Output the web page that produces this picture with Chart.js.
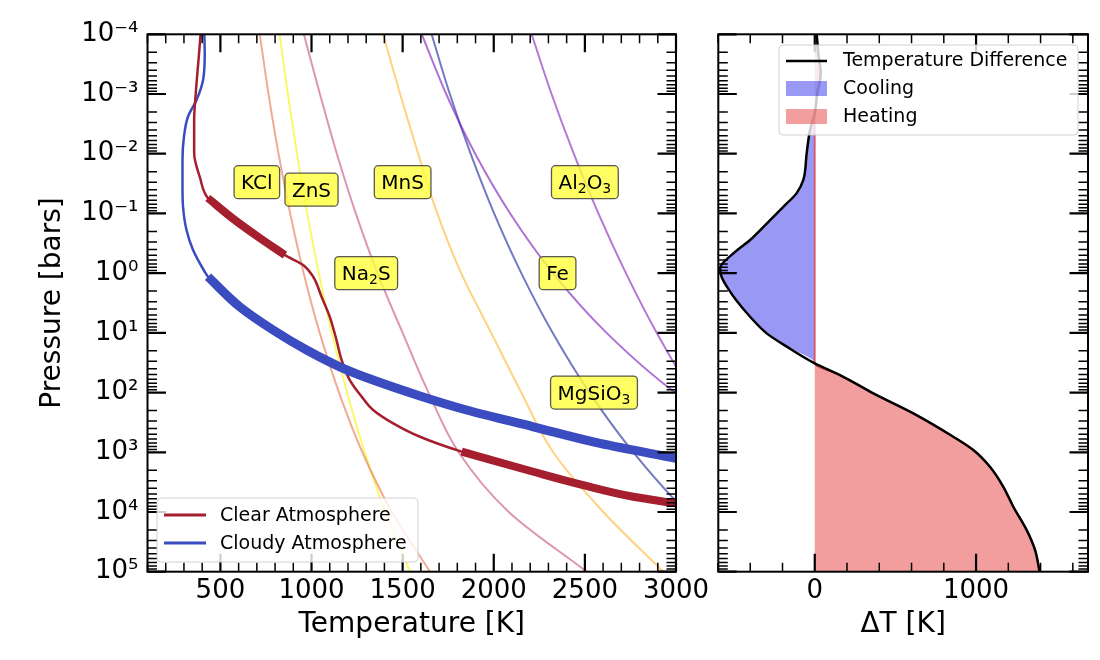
<!DOCTYPE html>
<html>
<head>
<meta charset="utf-8">
<script src="https://cdn.jsdelivr.net/npm/chart.js@4.4.1/dist/chart.umd.min.js"></script>
<style>
  body { margin: 0; background: #fff; }
  #wrap { position: relative; width: 1100px; height: 660px; }
  #leftChart { position: absolute; left: 0; top: 0; }
  #rightChart { position: absolute; left: 700px; top: 0; }
</style>
</head>
<body>
<div id="wrap">
  <canvas id="leftChart" width="720" height="660"></canvas>
  <canvas id="rightChart" width="400" height="660"></canvas>
</div>
<script>
// ---- data -------------------------------------------------------------
// condensation curves, temperature [K] at each pressure level [bar]
const condPressure = [1e-4, 1e-3, 1e-2, 1e-1, 1, 10, 100, 1e3, 1e4, 1e5];
const kclT    = [716, 764, 819, 883, 957, 1045, 1151, 1279, 1441, 1650];
const znsT    = [825, 870, 920, 976, 1040, 1112, 1195, 1292, 1405, 1541];
const na2sT   = [958, 1046, 1139, 1243, 1362, 1500, 1642, 1807, 2082, 2510];
const mnsT    = [1393, 1486, 1585, 1690, 1821, 1986, 2151, 2326, 2601, 2930];
const feT     = [1605, 1739, 1898, 2090, 2325, 2619, 2996, 3502, 4215, 5290];
const mgsio3T = [1659, 1759, 1873, 2002, 2151, 2323, 2525, 2766, 3058, 3419];
const al2o3T  = [2208, 2317, 2439, 2574, 2725, 2894, 3086, 3306, 3559, 3854];

// species labels (name, temperature, pressure)
const speciesNames = ['KCl', 'ZnS', 'MnS', 'Al_2O_3', 'Na_2S', 'Fe', 'MgSiO_3'];
const labelT = [700, 1000, 1500, 2500, 1300, 2350, 2550];
const labelP = [0.03, 0.04, 0.03, 0.03, 1, 1, 100];

// P-T profiles
const clearT = [391, 383, 365, 356, 356, 387, 431, 579, 716, 854, 954, 1009, 1055, 1100, 1137, 1165, 1210, 1275, 1338, 1448, 1595, 1824, 2217, 2491, 2766, 3000];
const clearP = [1e-4, 2.06e-4, 9.6e-4, 2.72e-3, 9.7e-3, 0.0245, 0.0552, 0.129, 0.258, 0.498, 0.731, 1.15, 2.48, 5.37, 13.2, 28.5, 61.7, 117, 196, 328, 550, 977, 2120, 3550, 5560, 7180];
const cloudyT = [412, 414, 405, 369, 322, 300, 292, 292, 295, 314, 350, 414, 432, 606, 789, 973, 1155, 1338, 1595, 1851, 2217, 2583, 3000];
const cloudyP = [1e-4, 2.09e-4, 5.83e-4, 1.26e-3, 2.4e-3, 5.19e-3, 0.0128, 0.0357, 0.0773, 0.19, 0.41, 0.948, 1.15, 3.66, 8.97, 19.4, 37, 61.8, 114, 196, 374, 710, 1260];
// pressure ranges drawn thick
const clearThick = [[0.0552, 0.498], [977, 1e5]];
const cloudyThick = [[1.15, 1e5]];

// temperature difference panel
const dtP = [1e-4, 2.09e-4, 4.47e-4, 9.77e-4, 2.09e-3, 3.98e-3, 9.77e-3, 0.0275, 0.0457, 0.0776, 0.148, 0.279, 0.468, 0.832, 1.15, 1.91, 2.82, 5.37, 10.2, 17, 32.4, 50.9, 103, 223, 550, 918, 1750, 3780, 8180, 20100, 43400, 1e5];
const dtK = [12, 22, 37, 16, 0, -29, -50, -71, -112, -195, -298, -401, -505, -587, -578, -532, -488, -401, -298, -174, 0, 157, 363, 611, 859, 983, 1086, 1169, 1231, 1314, 1366, 1394];

// axis ticks
const pressureTicks = [1e-4, 1e-3, 1e-2, 1e-1, 1, 10, 100, 1e3, 1e4, 1e5];
const tempTicks = [500, 1000, 1500, 2000, 2500, 3000];
const dtTicks = [0, 1000];

// ---- helpers -----------------------------------------------------------
const FONT = '"DejaVu Sans", sans-serif';
Chart.defaults.font.family = FONT;
Chart.defaults.color = '#000';

const SUP = { '-': '⁻', '0': '⁰', '1': '¹', '2': '²', '3': '³', '4': '⁴', '5': '⁵', '6': '⁶', '7': '⁷', '8': '⁸', '9': '⁹' };
function decadeLabel(v) {
  const e = Math.round(Math.log10(v));
  return '10' + String(e).split('').map(c => SUP[c]).join('');
}

function pts(xs, ps) {
  return ps.map((p, i) => ({ x: xs[i], y: p }));
}

function inRanges(p, ranges) {
  return ranges.some(r => p >= r[0] - 1e-9 && p <= r[1] + 1e-9);
}

function lineSet(data, color, width, order) {
  return {
    data: data, borderColor: color, borderWidth: width, fill: false,
    pointRadius: 0, order: order, clip: 0
  };
}

// minor tick values
const pressureMinor = [];
pressureTicks.slice(0, -1).forEach(d => { for (let m = 2; m <= 9; m++) pressureMinor.push(m * d); });
const tempMinor = [];
for (let t = 100; t <= 3000; t += 100) if (!tempTicks.includes(t)) tempMinor.push(t);
const dtMinor = [];
for (let t = -600; t <= 1600; t += 200) if (!dtTicks.includes(t)) dtMinor.push(t);

// inward ticks on all four sides + frame
function frameTicks(xMajor, xMinor) {
  return {
    id: 'frameTicks',
    afterDraw(chart) {
      const { ctx, chartArea: a } = chart;
      const xs = chart.scales.x, ys = chart.scales.y;
      ctx.save();
      ctx.strokeStyle = '#000';
      const tx = (v, len, lw) => {
        const px = xs.getPixelForValue(v);
        if (px < a.left - 0.5 || px > a.right + 0.5) return;
        ctx.lineWidth = lw;
        ctx.beginPath();
        ctx.moveTo(px, a.bottom); ctx.lineTo(px, a.bottom - len);
        ctx.moveTo(px, a.top); ctx.lineTo(px, a.top + len);
        ctx.stroke();
      };
      const ty = (v, len, lw) => {
        const py = ys.getPixelForValue(v);
        ctx.lineWidth = lw;
        ctx.beginPath();
        ctx.moveTo(a.left, py); ctx.lineTo(a.left + len, py);
        ctx.moveTo(a.right, py); ctx.lineTo(a.right - len, py);
        ctx.stroke();
      };
      xMinor.forEach(v => tx(v, 9, 1.5));
      xMajor.forEach(v => tx(v, 18, 2.2));
      pressureMinor.forEach(v => ty(v, 9.5, 1.5));
      pressureTicks.forEach(v => ty(v, 18.5, 2.2));
      ctx.lineWidth = 2;
      ctx.strokeRect(a.left, a.top, a.right - a.left, a.bottom - a.top);
      ctx.restore();
    }
  };
}

// yellow boxed species labels with subscripts
const speciesLabels = {
  id: 'speciesLabels',
  afterDatasetsDraw(chart) {
    const ctx = chart.ctx;
    const xs = chart.scales.x, ys = chart.scales.y;
    ctx.save();
    speciesNames.forEach((name, i) => {
      const cx = xs.getPixelForValue(labelT[i]);
      const cy = ys.getPixelForValue(labelP[i]);
      const parts = name.split(/(_\d)/).filter(s => s).map(s => s[0] === '_' ? [s.slice(1), true] : [s, false]);
      const big = '20px ' + FONT, small = '14px ' + FONT;
      let w = 0;
      parts.forEach(([t, sub]) => { ctx.font = sub ? small : big; w += ctx.measureText(t).width; });
      const bw = w + 14, bh = 33;
      ctx.beginPath();
      ctx.roundRect(cx - bw / 2, cy - bh / 2, bw, bh, 4);
      ctx.fillStyle = 'rgba(255,255,60,0.8)';
      ctx.fill();
      ctx.lineWidth = 1.3;
      ctx.strokeStyle = 'rgba(60,60,60,0.85)';
      ctx.stroke();
      ctx.fillStyle = '#000';
      ctx.textAlign = 'left';
      ctx.textBaseline = 'alphabetic';
      let x = cx - w / 2;
      const base = cy + 7;
      parts.forEach(([t, sub]) => {
        ctx.font = sub ? small : big;
        ctx.fillText(t, x, sub ? base + 4 : base);
        x += ctx.measureText(t).width;
      });
    });
    ctx.restore();
  }
};

function legendBox(ctx, x, y, w, h) {
  ctx.beginPath();
  ctx.roundRect(x, y, w, h, 4);
  ctx.fillStyle = 'rgba(255,255,255,0.8)';
  ctx.fill();
  ctx.lineWidth = 1;
  ctx.strokeStyle = 'rgba(204,204,204,0.9)';
  ctx.stroke();
}

const leftLegend = {
  id: 'leftLegend',
  afterDraw(chart) {
    const ctx = chart.ctx;
    ctx.save();
    legendBox(ctx, 157, 498, 261, 64);
    const items = [['Clear Atmosphere', '#a51f2e', 515], ['Cloudy Atmosphere', '#3b4cc0', 543]];
    ctx.font = '19px ' + FONT;
    ctx.textBaseline = 'middle';
    items.forEach(([txt, col, y]) => {
      ctx.strokeStyle = col; ctx.lineWidth = 3;
      ctx.beginPath(); ctx.moveTo(164, y); ctx.lineTo(206, y); ctx.stroke();
      ctx.fillStyle = '#000';
      ctx.fillText(txt, 220, y + 1);
    });
    ctx.restore();
  }
};

const rightLegend = {
  id: 'rightLegend',
  afterDraw(chart) {
    const ctx = chart.ctx;
    ctx.save();
    legendBox(ctx, 79, 45, 299, 90);
    ctx.font = '19px ' + FONT;
    ctx.textBaseline = 'middle';
    ctx.strokeStyle = '#000'; ctx.lineWidth = 2.5;
    ctx.beginPath(); ctx.moveTo(86, 61); ctx.lineTo(127, 61); ctx.stroke();
    ctx.fillStyle = 'rgba(0,0,230,0.4)';
    ctx.fillRect(86, 81, 41, 15);
    ctx.fillStyle = 'rgba(226,40,40,0.45)';
    ctx.fillRect(86, 109, 41, 15);
    ctx.fillStyle = '#000';
    ctx.fillText('Temperature Difference', 143, 61);
    ctx.fillText('Cooling', 143, 89);
    ctx.fillText('Heating', 143, 117);
    ctx.restore();
  }
};

// ---- left panel ----------------------------------------------------------
const condCurves = [
  [kclT, 'rgba(230,115,80,0.6)'],
  [znsT, 'rgba(245,245,0,0.6)'],
  [na2sT, 'rgba(197,80,130,0.6)'],
  [mnsT, 'rgba(255,165,0,0.5)'],
  [feT, 'rgba(120,20,185,0.6)'],
  [mgsio3T, 'rgba(40,50,160,0.65)'],
  [al2o3T, 'rgba(130,30,185,0.6)']
];

const leftDatasets = condCurves.map(([T, col]) => lineSet(pts(T, condPressure), col, 2, 5));

const clearPts = pts(clearT, clearP);
const cloudyPts = pts(cloudyT, cloudyP);
leftDatasets.push(lineSet(clearPts, '#a51f2e', 2.5, 2));
leftDatasets.push(lineSet(cloudyPts, '#3b4cc0', 2.5, 2));
clearThick.forEach(r => leftDatasets.push(lineSet(clearPts.filter(p => inRanges(p.y, [r])), '#a51f2e', 8, 1)));
cloudyThick.forEach(r => leftDatasets.push(lineSet(cloudyPts.filter(p => inRanges(p.y, [r])), '#3b4cc0', 9, 1)));

const commonElements = {
  point: { radius: 0 },
  line: { capBezierPoints: false, cubicInterpolationMode: 'monotone', borderCapStyle: 'butt', borderJoinStyle: 'round' }
};

new Chart(document.getElementById('leftChart'), {
  type: 'line',
  data: { datasets: leftDatasets },
  options: {
    responsive: false,
    animation: false,
    indexAxis: 'y',
    layout: { padding: { top: 34.3, right: 44, bottom: 0, left: 0 } },
    elements: commonElements,
    plugins: { legend: { display: false }, tooltip: { enabled: false } },
    scales: {
      x: {
        type: 'linear', position: 'bottom', min: 100, max: 3000,
        grid: { display: false, drawTicks: false }, border: { display: false },
        afterBuildTicks: s => { s.ticks = tempTicks.map(v => ({ value: v })); },
        afterFit: s => { s.height = 88.3; },
        ticks: { autoSkip: false, maxRotation: 0, padding: 4, font: { size: 26 }, callback: v => String(v) },
        title: { display: true, text: 'Temperature [K]', font: { size: 28 }, padding: { top: 0, bottom: 18 } }
      },
      y: {
        type: 'logarithmic', position: 'left', reverse: true, min: 1e-4, max: 1e5,
        grid: { display: false, drawTicks: false }, border: { display: false },
        afterBuildTicks: s => { s.ticks = pressureTicks.map(v => ({ value: v })); },
        afterFit: s => { s.width = 147.5; },
        ticks: { autoSkip: false, padding: 9, font: { size: 26 }, callback: v => decadeLabel(v) },
        title: { display: true, text: 'Pressure [bars]', font: { size: 28 }, padding: { top: 36, bottom: 0 } }
      }
    }
  },
  plugins: [speciesLabels, frameTicks(tempTicks, tempMinor), leftLegend]
});

// ---- right panel ---------------------------------------------------------
const rightDatasets = [
  {
    data: dtP.map((p, i) => ({ x: Math.min(dtK[i], 0), y: p })),
    borderWidth: 0, backgroundColor: 'rgba(0,0,230,0.4)', fill: { value: 0 }, order: 3, clip: 0
  },
  {
    data: dtP.map((p, i) => ({ x: Math.max(dtK[i], 0), y: p })),
    borderWidth: 2, borderColor: 'rgba(226,40,40,0.65)', backgroundColor: 'rgba(226,40,40,0.45)',
    fill: { value: 0 }, order: 2, clip: 0
  },
  lineSet(pts(dtK, dtP), '#000', 2.5, 1)
];

new Chart(document.getElementById('rightChart'), {
  type: 'line',
  data: { datasets: rightDatasets },
  options: {
    responsive: false,
    animation: false,
    indexAxis: 'y',
    layout: { padding: { top: 34.3, right: 12, bottom: 0, left: 0 } },
    elements: commonElements,
    plugins: { legend: { display: false }, tooltip: { enabled: false } },
    scales: {
      x: {
        type: 'linear', position: 'bottom', min: -598, max: 1694,
        grid: { display: false, drawTicks: false }, border: { display: false },
        afterBuildTicks: s => { s.ticks = dtTicks.map(v => ({ value: v })); },
        afterFit: s => { s.height = 88.3; },
        ticks: { autoSkip: false, maxRotation: 0, padding: 4, font: { size: 26 }, callback: v => String(v) },
        title: { display: true, text: 'ΔT [K]', font: { size: 28 }, padding: { top: 0, bottom: 18 } }
      },
      y: {
        type: 'logarithmic', position: 'left', reverse: true, min: 1e-4, max: 1e5,
        grid: { display: false, drawTicks: false }, border: { display: false },
        afterFit: s => { s.width = 18.3; },
        ticks: { display: false }
      }
    }
  },
  plugins: [frameTicks(dtTicks, dtMinor), rightLegend]
});
</script>
</body>
</html>
